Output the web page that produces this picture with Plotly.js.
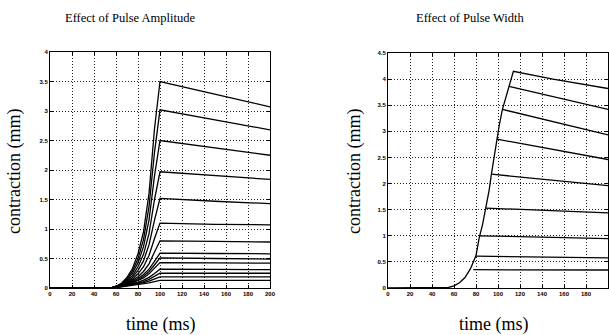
<!DOCTYPE html>
<html>
<head>
<meta charset="utf-8">
<script src="https://cdn.plot.ly/plotly-3.0.1.min.js"></script>
<style>html,body{margin:0;padding:0;background:#fff;}#chart{width:609px;height:335px;}</style>
</head>
<body>
<div id="chart"></div>
<script>
// ---------- Left panel: Effect of Pulse Amplitude ----------
var ampTimes = [0, 55, 60, 65, 70, 75, 80, 85, 90, 95, 100, 150, 200];
var amp1  = [0, 0, 0.03, 0.08, 0.18, 0.33, 0.58, 0.95, 1.60, 2.70, 3.50, 3.28, 3.07];
var amp2  = [0, 0, 0.03, 0.07, 0.16, 0.29, 0.50, 0.82, 1.38, 2.30, 3.02, 2.85, 2.68];
var amp3  = [0, 0, 0.025, 0.065, 0.14, 0.25, 0.43, 0.70, 1.15, 1.90, 2.50, 2.37, 2.25];
var amp4  = [0, 0, 0.02, 0.06, 0.12, 0.21, 0.36, 0.57, 0.92, 1.50, 1.97, 1.90, 1.84];
var amp5  = [0, 0, 0.02, 0.055, 0.10, 0.18, 0.30, 0.46, 0.73, 1.15, 1.52, 1.47, 1.43];
var amp6  = [0, 0, 0.02, 0.05, 0.09, 0.15, 0.24, 0.36, 0.55, 0.84, 1.10, 1.08, 1.07];
var amp7  = [0, 0, 0.018, 0.045, 0.08, 0.13, 0.19, 0.28, 0.41, 0.61, 0.80, 0.79, 0.78];
var amp8  = [0, 0, 0.016, 0.04, 0.07, 0.11, 0.16, 0.23, 0.32, 0.45, 0.59, 0.585, 0.58];
var amp9  = [0, 0, 0.015, 0.037, 0.065, 0.10, 0.14, 0.20, 0.28, 0.39, 0.51, 0.50, 0.49];
var amp10 = [0, 0, 0.014, 0.034, 0.06, 0.09, 0.125, 0.17, 0.24, 0.33, 0.43, 0.425, 0.42];
var amp11 = [0, 0, 0.012, 0.03, 0.05, 0.075, 0.10, 0.135, 0.18, 0.245, 0.32, 0.315, 0.31];
var amp12 = [0, 0, 0.011, 0.027, 0.045, 0.065, 0.085, 0.11, 0.145, 0.195, 0.25, 0.25, 0.25];
var amp13 = [0, 0, 0.01, 0.024, 0.04, 0.055, 0.07, 0.09, 0.115, 0.15, 0.19, 0.19, 0.19];
var amp14 = [0, 0, 0.009, 0.02, 0.032, 0.045, 0.058, 0.072, 0.088, 0.108, 0.13, 0.13, 0.13];

// ---------- Right panel: Effect of Pulse Width ----------
var envTimes  = [0, 50, 55, 60, 65, 70, 75, 80, 83, 86, 89, 92, 94, 97, 99, 101, 104, 107, 110, 112, 114, 150, 200];
var envValues = [0, 0, 0.01, 0.04, 0.10, 0.20, 0.37, 0.62, 0.97, 1.22, 1.53, 1.88, 2.18, 2.58, 2.85, 3.10, 3.42, 3.65, 3.86, 4.02, 4.15, 4.00, 3.82];
// branches that leave the common rising curve when the pulse ends
var branchStartT = [110, 104, 99, 94, 89, 83, 80, 77.5];
var branchStartV = [3.86, 3.42, 2.85, 2.18, 1.53, 1.00, 0.61, 0.35];
var branchEndT   = [200, 200, 200, 200, 200, 200, 200, 200];
var branchEndV   = [3.42, 2.93, 2.46, 1.96, 1.44, 0.945, 0.575, 0.345];

var xTicks = [0, 20, 40, 60, 80, 100, 120, 140, 160, 180, 200];
var yTicksLeft = [0, 0.5, 1, 1.5, 2, 2.5, 3, 3.5, 4];
var yTicksRight = [0, 0.5, 1, 1.5, 2, 2.5, 3, 3.5, 4, 4.5];

var lineStyle = {color: '#000', width: 1.3};
var traces = [];
[amp1, amp2, amp3, amp4, amp5, amp6, amp7, amp8, amp9, amp10, amp11, amp12, amp13, amp14].forEach(function (s) {
  traces.push({x: ampTimes, y: s, type: 'scatter', mode: 'lines', line: lineStyle, xaxis: 'x', yaxis: 'y', hoverinfo: 'skip'});
});
traces.push({x: envTimes, y: envValues, type: 'scatter', mode: 'lines', line: lineStyle, xaxis: 'x2', yaxis: 'y2', hoverinfo: 'skip'});
for (var i = 0; i < branchStartT.length; i++) {
  traces.push({x: [branchStartT[i], branchEndT[i]], y: [branchStartV[i], branchEndV[i]], type: 'scatter', mode: 'lines', line: lineStyle, xaxis: 'x2', yaxis: 'y2', hoverinfo: 'skip'});
}

var tickFont = {family: 'Liberation Sans, Arial', size: 6, color: '#000', weight: 'bold'};
function xAxis(domain, anchor) {
  return {domain: domain, anchor: anchor, range: [0, 200], tickvals: xTicks, ticktext: xTicks.map(String),
    showline: true, linecolor: '#000', linewidth: 1, mirror: 'ticks', ticks: 'inside', ticklen: 3, tickcolor: '#000',
    showgrid: true, gridcolor: '#222', gridwidth: 1, griddash: '1px,2px', zeroline: false, tickfont: tickFont, ticklabelstandoff: 0, fixedrange: true};
}
function yAxis(domain, anchor, range, ticks) {
  return {domain: domain, anchor: anchor, range: range, tickvals: ticks, ticktext: ticks.map(String),
    showline: true, linecolor: '#000', linewidth: 1, mirror: 'ticks', ticks: 'inside', ticklen: 3, tickcolor: '#000',
    showgrid: true, gridcolor: '#222', gridwidth: 1, griddash: '1px,2px', zeroline: false, tickfont: tickFont, ticklabelstandoff: 0, fixedrange: true};
}

var serif = 'Liberation Serif, Times New Roman, serif';
var layout = {
  width: 609, height: 335, margin: {l: 0, r: 0, t: 0, b: 0},
  paper_bgcolor: '#fff', plot_bgcolor: '#fff', showlegend: false,
  xaxis: xAxis([50 / 609, 270 / 609], 'y'),
  yaxis: yAxis([47 / 335, 283 / 335], 'x', [0, 4], yTicksLeft),
  xaxis2: xAxis([388 / 609, 608 / 609], 'y2'),
  yaxis2: yAxis([47 / 335, 282 / 335], 'x2', [0, 4.5], yTicksRight),
  annotations: [
    {text: 'Effect of Pulse Amplitude', xref: 'paper', yref: 'paper', x: 130 / 609, y: 1 - 18 / 335, xanchor: 'center', yanchor: 'middle', showarrow: false, font: {family: serif, size: 12.5, color: '#000'}},
    {text: 'Effect of Pulse Width', xref: 'paper', yref: 'paper', x: 470 / 609, y: 1 - 18 / 335, xanchor: 'center', yanchor: 'middle', showarrow: false, font: {family: serif, size: 12.5, color: '#000'}},
    {text: 'contraction (mm)', xref: 'paper', yref: 'paper', x: 14 / 609, y: 1 - 172 / 335, xanchor: 'center', yanchor: 'middle', textangle: -90, showarrow: false, font: {family: serif, size: 18, color: '#000'}},
    {text: 'contraction (mm)', xref: 'paper', yref: 'paper', x: 354 / 609, y: 1 - 172 / 335, xanchor: 'center', yanchor: 'middle', textangle: -90, showarrow: false, font: {family: serif, size: 18, color: '#000'}},
    {text: 'time (ms)', xref: 'paper', yref: 'paper', x: 161 / 609, y: 1 - 324 / 335, xanchor: 'center', yanchor: 'middle', showarrow: false, font: {family: serif, size: 18, color: '#000'}},
    {text: 'time (ms)', xref: 'paper', yref: 'paper', x: 494 / 609, y: 1 - 324 / 335, xanchor: 'center', yanchor: 'middle', showarrow: false, font: {family: serif, size: 18, color: '#000'}}
  ]
};

Plotly.newPlot('chart', traces, layout, {staticPlot: true, displayModeBar: false});
</script>
</body>
</html>
